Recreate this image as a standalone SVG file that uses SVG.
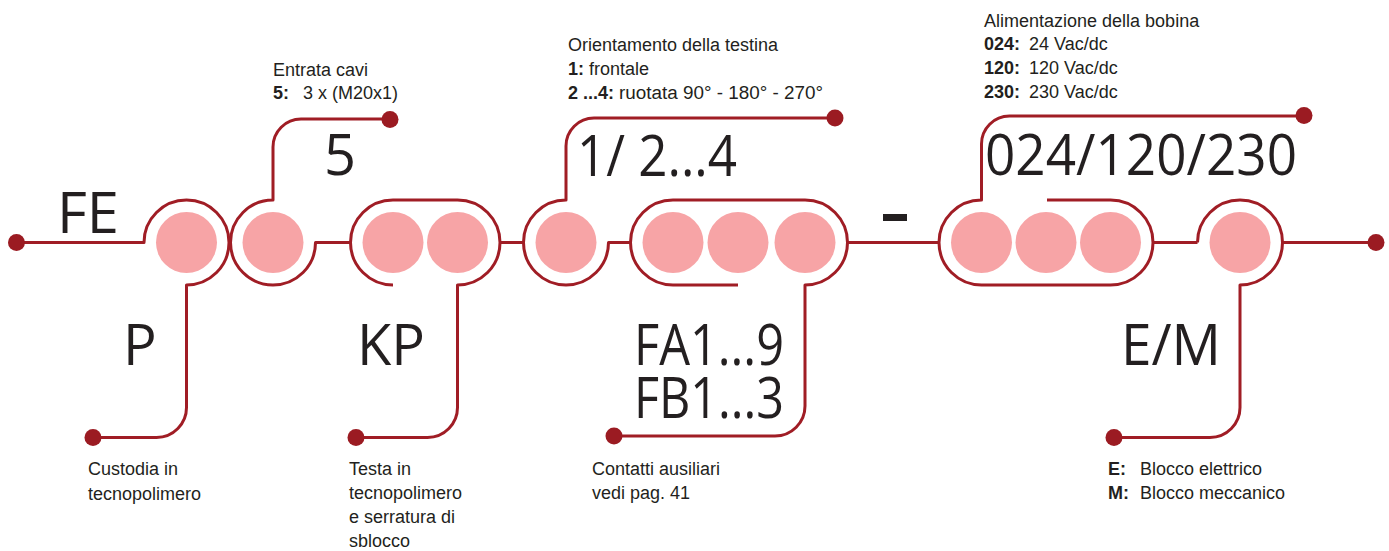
<svg xmlns="http://www.w3.org/2000/svg" width="1389" height="551" viewBox="0 0 1389 551">
<style>
.bg{fill:#ffffff}
.c{fill:#f7a4a6}
.ln{fill:none;stroke:#a01d25;stroke-width:3;stroke-linecap:butt;stroke-linejoin:round}
.dot{fill:#9b1b22}
.big{font-family:"Open Sans","Noto Sans","DejaVu Sans",sans-serif;font-size:56px;fill:#231f20}
.sm{font-family:"Liberation Sans",Arial,sans-serif;font-size:18px;fill:#231f20}
.b{font-weight:bold}
</style>
<rect class="bg" x="0" y="0" width="1389" height="551"/>

<g id="connectors">
  <path class="ln" d="M16.5 242.5 H144 A42.5 42.5 0 1 1 186.5 285 V407 A30 30 0 0 1 156.5 437.5 H93"/>
  <path class="ln" d="M390 119 H301 A28 28 0 0 0 273 147 V200 A42.5 42.5 0 1 0 315.5 242.5 H351"/>
  <path class="ln" d="M393 285 A42.5 42.5 0 0 1 350.5 242.5 A42.5 42.5 0 0 1 393 200 H457.5 A42.5 42.5 0 0 1 500 242.5 A42.5 42.5 0 0 1 457.5 285 V407 A30 30 0 0 1 427.5 437.5 H356"/>
  <path class="ln" d="M500 242.5 H524"/>
  <path class="ln" d="M835 118 H594 A28 28 0 0 0 566 146 V200 A42.5 42.5 0 1 0 608.5 242.5 H631"/>
  <path class="ln" d="M738 285 H673 A42.5 42.5 0 0 1 630.5 242.5 A42.5 42.5 0 0 1 673 200 H805 A42.5 42.5 0 0 1 847.5 242.5 A42.5 42.5 0 0 1 805 285 V406 A30 30 0 0 1 775 436 H614"/>
  <path class="ln" d="M847.5 242.5 H940"/>
  <path class="ln" d="M1047 200 H1110.5 A42.5 42.5 0 0 1 1153 242.5 A42.5 42.5 0 0 1 1110.5 285 H981.5 A42.5 42.5 0 0 1 939 242.5 A42.5 42.5 0 0 1 981.5 200 V144 A28 28 0 0 1 1009.5 116 H1304"/>
  <path class="ln" d="M1153 242.5 H1197.5"/>
  <path class="ln" d="M1197.5 242.5 A42.5 42.5 0 1 1 1240 285 V407 A30 30 0 0 1 1210 437.5 H1114"/>
  <path class="ln" d="M1282.5 242.5 H1376"/>
  <circle class="dot" cx="16.5" cy="242.5" r="8.5"/>
  <circle class="dot" cx="1376" cy="242.5" r="8.5"/>
  <circle class="dot" cx="390" cy="119.5" r="8.5"/>
  <circle class="dot" cx="835" cy="118" r="8.5"/>
  <circle class="dot" cx="1304" cy="115.5" r="8.5"/>
  <circle class="dot" cx="93" cy="437.5" r="8.5"/>
  <circle class="dot" cx="356" cy="437.5" r="8.5"/>
  <circle class="dot" cx="614" cy="436" r="8.5"/>
  <circle class="dot" cx="1114" cy="437.5" r="8.5"/>
</g>

<g id="node-FE">
  <text class="big" x="57" y="233" textLength="62" lengthAdjust="spacingAndGlyphs">FE</text>
</g>
<g id="node-P">
  <circle class="c" cx="186.5" cy="242.5" r="30.5"/>
  <text class="big" x="123" y="365">P</text>
  <text class="sm" x="88" y="475">Custodia in</text>
  <text class="sm" x="88" y="500">tecnopolimero</text>
</g>
<g id="node-5">
  <circle class="c" cx="273" cy="242.5" r="30.5"/>
  <text class="big" x="324" y="175">5</text>
  <text class="sm" x="273" y="76">Entrata cavi</text>
  <text class="sm" y="99"><tspan class="b" x="273">5:</tspan><tspan x="303">3 x (M20x1)</tspan></text>
</g>
<g id="node-KP">
  <circle class="c" cx="393" cy="242.5" r="30.5"/>
  <circle class="c" cx="457.5" cy="242.5" r="30.5"/>
  <text class="big" x="357" y="365" textLength="68" lengthAdjust="spacingAndGlyphs">KP</text>
  <text class="sm" x="349" y="475">Testa in</text>
  <text class="sm" x="349" y="499">tecnopolimero</text>
  <text class="sm" x="349" y="523">e serratura di</text>
  <text class="sm" x="349" y="547">sblocco</text>
</g>
<g id="node-orient">
  <circle class="c" cx="566" cy="242.5" r="30.5"/>
  <text class="big" x="577" y="176" textLength="160" lengthAdjust="spacingAndGlyphs">1/ 2...4</text>
  <text class="sm" x="568" y="51">Orientamento della testina</text>
  <text class="sm" y="75"><tspan class="b" x="568">1:</tspan><tspan x="589">frontale</tspan></text>
  <text class="sm" y="98.5"><tspan class="b" x="568">2 ...4:</tspan><tspan x="619" textLength="204" lengthAdjust="spacingAndGlyphs">ruotata 90° - 180° - 270°</tspan></text>
</g>
<g id="node-FA">
  <circle class="c" cx="673" cy="242.5" r="30.5"/>
  <circle class="c" cx="738" cy="242.5" r="30.5"/>
  <circle class="c" cx="805" cy="242.5" r="30.5"/>
  <text class="big"><tspan x="634" y="365" textLength="150" lengthAdjust="spacingAndGlyphs">FA1...9</tspan><tspan x="634" y="418" textLength="150" lengthAdjust="spacingAndGlyphs">FB1...3</tspan></text>
  <text class="sm" x="592" y="475">Contatti ausiliari</text>
  <text class="sm" x="592" y="499">vedi pag. 41</text>
</g>
<g id="node-dash">
  <rect x="883" y="214" width="24" height="7" fill="#231f20"/>
</g>
<g id="node-voltage">
  <circle class="c" cx="981.5" cy="242.5" r="30.5"/>
  <circle class="c" cx="1046" cy="242.5" r="30.5"/>
  <circle class="c" cx="1110.5" cy="242.5" r="30.5"/>
  <text class="big" x="985" y="175" textLength="312" lengthAdjust="spacingAndGlyphs">024/120/230</text>
  <text class="sm" x="984" y="27">Alimentazione della bobina</text>
  <text class="sm" y="50"><tspan class="b" x="984">024:</tspan><tspan x="1029">24 Vac/dc</tspan></text>
  <text class="sm" y="74"><tspan class="b" x="984">120:</tspan><tspan x="1029">120 Vac/dc</tspan></text>
  <text class="sm" y="98"><tspan class="b" x="984">230:</tspan><tspan x="1029">230 Vac/dc</tspan></text>
</g>
<g id="node-EM">
  <circle class="c" cx="1240" cy="242.5" r="30.5"/>
  <text class="big" x="1121" y="365" textLength="100" lengthAdjust="spacingAndGlyphs">E/M</text>
  <text class="sm" y="475"><tspan class="b" x="1108">E:</tspan><tspan x="1140">Blocco elettrico</tspan></text>
  <text class="sm" y="498.5"><tspan class="b" x="1108">M:</tspan><tspan x="1140">Blocco meccanico</tspan></text>
</g>
</svg>
